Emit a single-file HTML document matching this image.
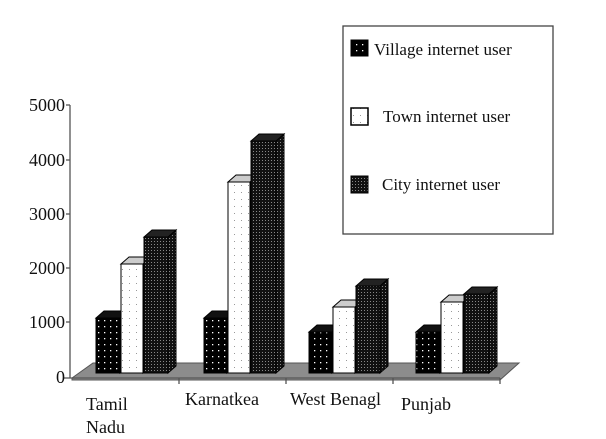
<!DOCTYPE html>
<html><head><style>body{margin:0;background:#fff}svg{display:block}</style></head><body>
<svg width="606" height="439" xmlns="http://www.w3.org/2000/svg" font-family="Liberation Serif, serif">
<defs>
<pattern id="pv" width="6" height="6" patternUnits="userSpaceOnUse"><rect width="6" height="6" fill="#000"/><rect x="2" y="2" width="1.3" height="1.3" fill="#fff"/></pattern>
<pattern id="pt" width="7" height="7" patternUnits="userSpaceOnUse"><rect width="7" height="7" fill="#fff"/><rect x="3" y="3" width="1" height="1" fill="#999"/></pattern>
<pattern id="pc" width="3" height="3" patternUnits="userSpaceOnUse"><rect width="3" height="3" fill="#111"/><rect x="1" y="1" width="1" height="1" fill="#888"/></pattern>
</defs>
<rect width="606" height="439" fill="#fff"/>
<polygon points="72,378 93,363 519,363 500,380 72,380" fill="#8c8c8c" stroke="#555" stroke-width="1"/>
<line x1="70" y1="105" x2="70" y2="378" stroke="#555" stroke-width="1.3"/>
<line x1="64" y1="378" x2="500" y2="378" stroke="#555" stroke-width="1.3"/>
<g stroke="#555" stroke-width="1.3">
<line x1="66" y1="105" x2="70" y2="105"/><line x1="66" y1="160" x2="70" y2="160"/><line x1="66" y1="214" x2="70" y2="214"/><line x1="66" y1="268" x2="70" y2="268"/><line x1="66" y1="322" x2="70" y2="322"/>
<line x1="179" y1="378" x2="179" y2="384"/><line x1="286" y1="378" x2="286" y2="384"/><line x1="393" y1="378" x2="393" y2="384"/><line x1="500" y1="378" x2="500" y2="384"/>
</g>
<g font-size="18" text-anchor="end" fill="#111">
<text x="65" y="111">5000</text><text x="65" y="166">4000</text><text x="65" y="220">3000</text><text x="65" y="274">2000</text><text x="65" y="328">1000</text><text x="65" y="383">0</text>
</g>
<g stroke="#000" stroke-width="1">
<!-- Tamil Nadu -->
<polygon points="120,373 128,366 128,311 120,318" fill="url(#pv)"/>
<polygon points="96,318 104,311 128,311 120,318" fill="#111"/>
<rect x="96" y="318" width="24" height="55" fill="url(#pv)"/>
<polygon points="143,373 151,366 151,257 143,264" fill="url(#pt)"/>
<polygon points="121,264 129,257 151,257 143,264" fill="#ccc"/>
<rect x="121" y="264" width="22" height="109" fill="url(#pt)"/>
<polygon points="168,373 176,366 176,230 168,237" fill="url(#pc)"/>
<polygon points="144,237 152,230 176,230 168,237" fill="#222"/>
<rect x="144" y="237" width="24" height="136" fill="url(#pc)"/>
<!-- Karnatkea -->
<polygon points="227,373 235,366 235,311 227,318" fill="url(#pv)"/>
<polygon points="204,318 212,311 235,311 227,318" fill="#111"/>
<rect x="204" y="318" width="23" height="55" fill="url(#pv)"/>
<polygon points="250,373 258,366 258,175 250,182" fill="url(#pt)"/>
<polygon points="228,182 236,175 258,175 250,182" fill="#ccc"/>
<rect x="228" y="182" width="22" height="191" fill="url(#pt)"/>
<polygon points="276,373 284,366 284,134 276,141" fill="url(#pc)"/>
<polygon points="251,141 259,134 284,134 276,141" fill="#222"/>
<rect x="251" y="141" width="25" height="232" fill="url(#pc)"/>
<!-- West Bengal -->
<polygon points="332,373 340,366 340,325 332,332" fill="url(#pv)"/>
<polygon points="309,332 317,325 340,325 332,332" fill="#111"/>
<rect x="309" y="332" width="23" height="41" fill="url(#pv)"/>
<polygon points="355,373 363,366 363,300 355,307" fill="url(#pt)"/>
<polygon points="333,307 341,300 363,300 355,307" fill="#ccc"/>
<rect x="333" y="307" width="22" height="66" fill="url(#pt)"/>
<polygon points="380,373 388,366 388,279 380,286" fill="url(#pc)"/>
<polygon points="356,286 364,279 388,279 380,286" fill="#222"/>
<rect x="356" y="286" width="24" height="87" fill="url(#pc)"/>
<!-- Punjab -->
<polygon points="440,373 448,366 448,325 440,332" fill="url(#pv)"/>
<polygon points="416,332 424,325 448,325 440,332" fill="#111"/>
<rect x="416" y="332" width="24" height="41" fill="url(#pv)"/>
<polygon points="463,373 471,366 471,295 463,302" fill="url(#pt)"/>
<polygon points="441,302 449,295 471,295 463,302" fill="#ccc"/>
<rect x="441" y="302" width="22" height="71" fill="url(#pt)"/>
<polygon points="489,373 497,366 497,287 489,294" fill="url(#pc)"/>
<polygon points="464,294 472,287 497,287 489,294" fill="#222"/>
<rect x="464" y="294" width="25" height="79" fill="url(#pc)"/>
</g>
<g font-size="18" fill="#111">
<text x="86" y="410">Tamil</text><text x="86" y="433">Nadu</text>
<text x="185" y="405">Karnatkea</text>
<text x="290" y="405">West Benagl</text>
<text x="401" y="410">Punjab</text>
</g>
<rect x="343" y="26" width="210" height="208" fill="#fff" stroke="#444" stroke-width="1.3"/>
<rect x="351" y="40" width="17" height="16" fill="url(#pv)" stroke="#000"/>
<rect x="351" y="108" width="17" height="17" fill="url(#pt)" stroke="#000" stroke-width="1.5"/>
<rect x="351" y="176" width="17" height="17" fill="url(#pc)" stroke="#000"/>
<g font-size="17" fill="#111">
<text x="374" y="55">Village internet user</text>
<text x="383" y="122">Town internet user</text>
<text x="382" y="190">City internet user</text>
</g>
</svg>
</body></html>
